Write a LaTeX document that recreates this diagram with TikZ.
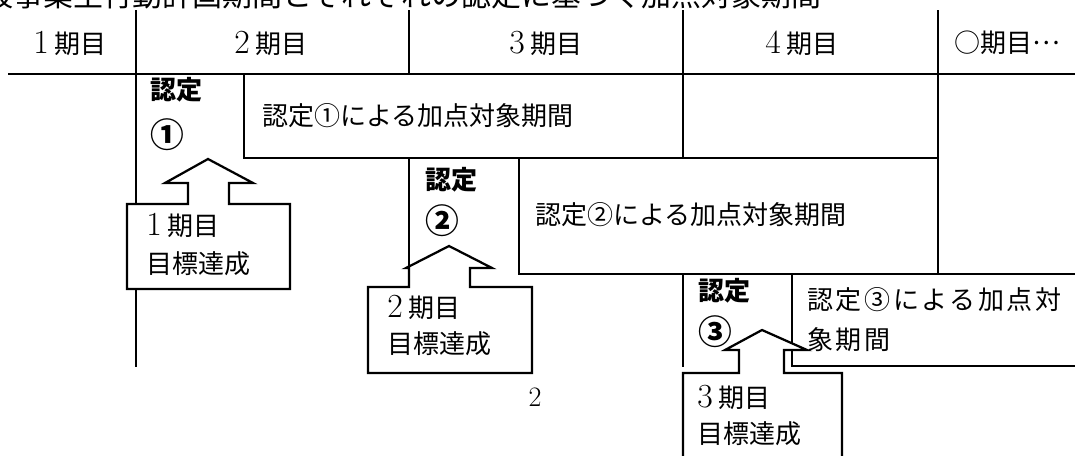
\documentclass[tikz,border=0pt]{standalone}
\usepackage{fontspec}
\newfontfamily\jp{Noto Sans CJK JP}
\newfontfamily\jpwide[LetterSpace=10]{Noto Sans CJK JP}
\newcommand\kazu[1]{{\rmfamily\fontsize{24pt}{24pt}\selectfont #1}}
\newcommand\maru[1]{{\fontsize{24pt}{24pt}\selectfont #1}}
\usetikzlibrary{positioning}

\begin{document}
\begin{tikzpicture}[
        x=0.025cm, y=-0.025cm,
        waku/.style={line width=1.3pt},
        yajirushi/.style={draw, line width=1.6pt, fill=white, line join=miter},
        midashi/.style={inner sep=0pt, font=\jp\fontsize{18.5pt}{22pt}\selectfont},
        nintei/.style={inner sep=0pt, anchor=west, align=left, font=\jp\bfseries\fontsize{18.5pt}{30.6pt}\selectfont},
        kikan/.style={inner sep=0pt, anchor=west, align=left, font=\jp\fontsize{18.5pt}{28.4pt}\selectfont},
        tassei/.style={inner sep=0pt, anchor=west, align=left, font=\jp\fontsize{18.5pt}{25.6pt}\selectfont}
    ]
    \useasboundingbox (0,0) rectangle (1075,455);
    \clip (0,0) rectangle (1075,455);

    \node[anchor=base west, inner sep=0pt, font=\jp\fontsize{21.3pt}{21.3pt}\selectfont] (title) at (-47,6.5) {一般事業主行動計画期間とそれぞれの認定に基づく加点対象期間};

    % table frame
    \draw[waku] (8,74) -- (1075,74);
    \draw[waku] (136,10) -- (136,367);
    \draw[waku] (409,10) -- (409,74);
    \draw[waku] (683,10) -- (683,158);
    \draw[waku] (938,10) -- (938,274);

    % periods
    \draw[waku] (244,74) -- (244,158) -- (938,158);
    \draw[waku] (409,158) -- (409,287);
    \draw[waku] (519,158) -- (519,274) -- (1075,274);
    \draw[waku] (683,274) -- (683,367);
    \draw[waku] (792,274) -- (792,366) -- (1075,366);

    % arrows
    \draw[yajirushi] (127,289) -- (127,204) -- (188,204) -- (188,183) -- (165,183) -- (208,159)
        -- (253,183) -- (229,183) -- (229,204) -- (290,204) -- (290,289) -- cycle;
    \draw[yajirushi] (368,373) -- (368,287) -- (409,287) -- (409,268) -- (406,268) -- (449,246)
        -- (492,268) -- (470,268) -- (470,287) -- (532,287) -- (532,373) -- cycle;
    \draw[yajirushi] (683,470) -- (683,373) -- (739,373) -- (739,350) -- (725,350) -- (762,330)
        -- (807,350) -- (784,350) -- (784,373) -- (842,373) -- (842,470) -- cycle;

    % header
    \node[midashi] (h1) at (70,43) {\kazu{1} 期目};
    \node[midashi] (h2) at (271,43) {\kazu{2} 期目};
    \node[midashi] (h3) at (546,43) {\kazu{3} 期目};
    \node[midashi] (h4) at (802,43) {\kazu{4} 期目};
    \node[midashi] (h5) at (1007,43) {○期目\raisebox{0.3em}{…}};

    % certifications
    \node[nintei] (n1) at (150,114) {認定\\[3.4pt]\maru{①}};
    \node[kikan] (k1) at (262,116) {認定①による加点対象期間};
    \node[nintei] (n2) at (425,202) {認定\\\maru{②}};
    \node[kikan] (k2) at (535,215) {認定②による加点対象期間};
    \node[nintei] (n3) at (698,313) {認定\\\maru{③}};
    \node[kikan, font=\jpwide\fontsize{18.5pt}{28.4pt}\selectfont] (k3) at (807,320) {認定③による加点対\\象期間};

    % goals
    \node[tassei, font=\jp\fontsize{18.5pt}{27pt}\selectfont] (a1) at (146,244) {\kazu{1} 期目\\目標達成};
    \node[tassei] (a2) at (387,325) {\kazu{2} 期目\\目標達成};
    \node[tassei] (a3) at (697,415) {\kazu{3} 期目\\目標達成};

    \node[inner sep=0pt, font=\fontsize{20pt}{20pt}\selectfont] (pg) at (535,397) {2};
\end{tikzpicture}
\end{document}
